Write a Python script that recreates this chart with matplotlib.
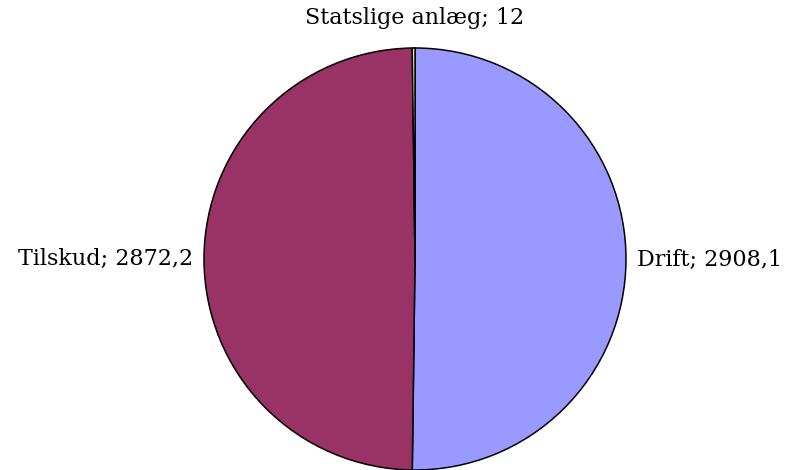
import matplotlib.pyplot as plt

labels = ['Drift', 'Tilskud', 'Statslige anlæg']
values = [2908.1, 2872.2, 12]
value_text = ['2908,1', '2872,2', '12']
colors = ['#9999FF', '#993366', '#FFFFCC']

fig = plt.figure(figsize=(7.9, 4.7), dpi=100)
cx, cy, r = 415, 259, 211
ax = fig.add_axes([(cx - r) / 790, (470 - cy - r) / 470, 2 * r / 790, 2 * r / 470])

wedges, texts = ax.pie(values, colors=colors, startangle=90, counterclock=False,
                       labels=[f'{l}; {v}' for l, v in zip(labels, value_text)],
                       labeldistance=1.05,
                       wedgeprops=dict(edgecolor='black', linewidth=1.1),
                       textprops=dict(family='DejaVu Serif', fontsize=16))
# lift the small slice label above the pie
texts[2].set_position((0, 1.14))
texts[2].set_ha('center')
ax.set_xlim(-1, 1)
ax.set_ylim(-1, 1)
ax.axis('off')

fig.savefig('out.png', dpi=100)
